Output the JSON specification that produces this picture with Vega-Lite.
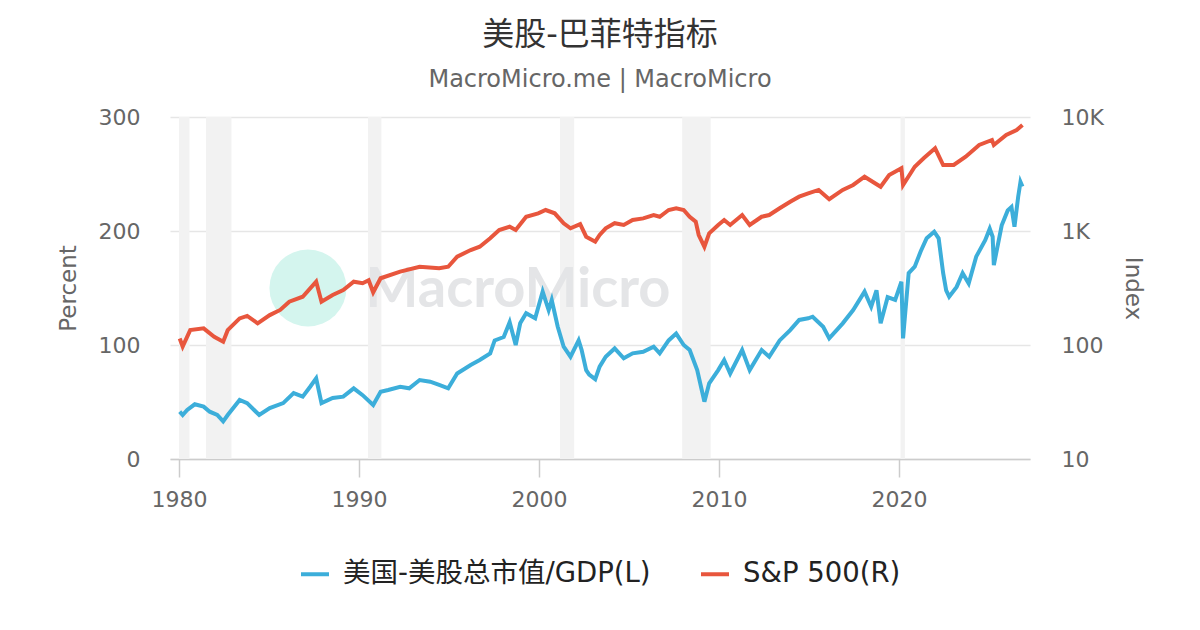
{
  "$schema": "https://vega.github.io/schema/vega-lite/v6.json",
  "autosize": {"type": "none"},
  "width": 860,
  "height": 342,
  "padding": {"left": 170, "top": 117, "right": 170, "bottom": 171},
  "background": "white",
  "title": {
    "text": "美股-巴菲特指标",
    "subtitle": "MacroMicro.me | MacroMicro",
    "anchor": "middle",
    "font": "DejaVu Sans, Noto Sans CJK SC",
    "fontSize": 32,
    "fontWeight": "normal",
    "color": "#333333",
    "subtitleFont": "DejaVu Sans",
    "subtitleFontSize": 24,
    "subtitleColor": "#666666",
    "subtitlePadding": 16,
    "offset": 13
  },
  "config": {
    "view": {"stroke": null},
    "font": "DejaVu Sans, Noto Sans CJK SC"
  },
  "datasets": {
    "rec": [
      {"start": "1980-01-01", "end": "1980-07-31"},
      {"start": "1981-07-01", "end": "1982-11-30"},
      {"start": "1990-07-01", "end": "1991-03-31"},
      {"start": "2001-03-01", "end": "2001-12-15"},
      {"start": "2007-12-15", "end": "2009-07-15"},
      {"start": "2020-02-01", "end": "2020-04-30"}
    ],
    "wm": [
      {"date": "1987-03-01", "value": 150, "label": ""},
      {"date": "1998-11-01", "value": 148, "label": "MacroMicro"}
    ],
    "gdp": [
      {"date": "1980-01-15", "value": 41.5},
      {"date": "1980-03-15", "value": 38.6},
      {"date": "1980-06-15", "value": 43},
      {"date": "1980-11-15", "value": 48},
      {"date": "1981-05-15", "value": 45.9},
      {"date": "1981-09-15", "value": 41.5},
      {"date": "1982-02-15", "value": 38.6},
      {"date": "1982-06-15", "value": 33},
      {"date": "1982-09-15", "value": 38.6},
      {"date": "1983-05-15", "value": 51.8},
      {"date": "1983-10-15", "value": 49},
      {"date": "1984-06-15", "value": 38.6},
      {"date": "1985-01-15", "value": 44.7},
      {"date": "1985-10-15", "value": 49},
      {"date": "1986-05-15", "value": 57.8},
      {"date": "1986-11-15", "value": 54.7},
      {"date": "1987-04-15", "value": 63.4},
      {"date": "1987-08-15", "value": 70.8},
      {"date": "1987-12-01", "value": 49},
      {"date": "1988-07-15", "value": 53.5},
      {"date": "1989-02-15", "value": 54.7},
      {"date": "1989-09-15", "value": 62},
      {"date": "1990-03-15", "value": 56},
      {"date": "1990-10-15", "value": 47.4},
      {"date": "1991-03-15", "value": 59},
      {"date": "1991-08-15", "value": 60.5},
      {"date": "1992-04-15", "value": 63.4},
      {"date": "1992-10-15", "value": 62},
      {"date": "1993-05-15", "value": 69.3},
      {"date": "1993-12-15", "value": 67.8},
      {"date": "1994-06-15", "value": 65},
      {"date": "1994-12-15", "value": 62},
      {"date": "1995-06-15", "value": 75},
      {"date": "1996-03-15", "value": 82.5},
      {"date": "1996-09-15", "value": 86.8},
      {"date": "1997-04-15", "value": 92.7},
      {"date": "1997-07-15", "value": 104},
      {"date": "1998-01-15", "value": 107},
      {"date": "1998-05-15", "value": 120},
      {"date": "1998-09-15", "value": 100},
      {"date": "1998-12-15", "value": 119},
      {"date": "1999-04-15", "value": 127.8},
      {"date": "1999-10-15", "value": 123.4},
      {"date": "2000-03-15", "value": 146.8},
      {"date": "2000-07-15", "value": 130.7},
      {"date": "2000-09-15", "value": 139.5},
      {"date": "2001-01-15", "value": 116},
      {"date": "2001-05-15", "value": 98.5},
      {"date": "2001-10-01", "value": 89.7},
      {"date": "2002-03-15", "value": 104},
      {"date": "2002-05-15", "value": 95.6},
      {"date": "2002-08-15", "value": 78},
      {"date": "2002-10-15", "value": 74},
      {"date": "2003-02-15", "value": 70},
      {"date": "2003-05-15", "value": 81},
      {"date": "2003-09-15", "value": 89.7},
      {"date": "2004-03-15", "value": 97},
      {"date": "2004-09-15", "value": 88.3},
      {"date": "2005-03-15", "value": 92.7},
      {"date": "2005-10-15", "value": 94},
      {"date": "2006-05-15", "value": 98.5},
      {"date": "2006-09-15", "value": 92.7},
      {"date": "2007-03-15", "value": 104},
      {"date": "2007-08-15", "value": 110},
      {"date": "2008-01-15", "value": 100},
      {"date": "2008-05-15", "value": 95.6},
      {"date": "2008-10-15", "value": 78},
      {"date": "2009-01-15", "value": 60.5},
      {"date": "2009-03-10", "value": 50.3},
      {"date": "2009-06-15", "value": 66.4},
      {"date": "2009-12-15", "value": 78},
      {"date": "2010-04-15", "value": 86.8},
      {"date": "2010-08-15", "value": 75},
      {"date": "2011-04-15", "value": 95.6},
      {"date": "2011-09-15", "value": 78},
      {"date": "2012-05-15", "value": 95.6},
      {"date": "2012-10-15", "value": 89.7},
      {"date": "2013-05-15", "value": 104},
      {"date": "2013-12-15", "value": 113},
      {"date": "2014-06-15", "value": 122},
      {"date": "2014-12-15", "value": 123.4},
      {"date": "2015-03-15", "value": 124.8},
      {"date": "2015-10-15", "value": 116},
      {"date": "2016-02-15", "value": 105.8},
      {"date": "2016-11-15", "value": 119},
      {"date": "2017-06-15", "value": 130.7},
      {"date": "2018-02-01", "value": 146.8},
      {"date": "2018-06-15", "value": 133.6},
      {"date": "2018-10-01", "value": 148},
      {"date": "2018-12-24", "value": 119},
      {"date": "2019-05-15", "value": 142},
      {"date": "2019-10-15", "value": 139.5},
      {"date": "2020-02-19", "value": 155.5},
      {"date": "2020-03-23", "value": 105.8},
      {"date": "2020-07-15", "value": 163},
      {"date": "2020-11-15", "value": 168.7},
      {"date": "2021-03-15", "value": 182},
      {"date": "2021-07-15", "value": 193.6},
      {"date": "2021-12-15", "value": 199.4},
      {"date": "2022-03-15", "value": 193.6},
      {"date": "2022-06-15", "value": 163},
      {"date": "2022-08-15", "value": 148},
      {"date": "2022-10-15", "value": 142.4},
      {"date": "2023-03-15", "value": 151},
      {"date": "2023-07-15", "value": 163},
      {"date": "2023-11-15", "value": 154},
      {"date": "2024-04-15", "value": 177.5},
      {"date": "2024-10-15", "value": 192},
      {"date": "2025-01-15", "value": 202},
      {"date": "2025-03-15", "value": 195},
      {"date": "2025-04-08", "value": 170},
      {"date": "2025-09-15", "value": 205},
      {"date": "2026-01-15", "value": 218},
      {"date": "2026-04-01", "value": 221},
      {"date": "2026-06-01", "value": 203.7},
      {"date": "2026-08-15", "value": 230},
      {"date": "2026-10-01", "value": 243},
      {"date": "2026-11-10", "value": 239}
    ],
    "spx": [
      {"date": "1980-01-15", "value": 114},
      {"date": "1980-03-15", "value": 97},
      {"date": "1980-08-15", "value": 135},
      {"date": "1981-05-15", "value": 140},
      {"date": "1981-12-15", "value": 118},
      {"date": "1982-06-15", "value": 107},
      {"date": "1982-09-15", "value": 135},
      {"date": "1983-05-15", "value": 171},
      {"date": "1983-10-15", "value": 180},
      {"date": "1984-05-15", "value": 155},
      {"date": "1985-01-15", "value": 183},
      {"date": "1985-08-15", "value": 203},
      {"date": "1986-02-15", "value": 240},
      {"date": "1986-11-15", "value": 265},
      {"date": "1987-08-15", "value": 360},
      {"date": "1987-12-01", "value": 240},
      {"date": "1988-07-15", "value": 275},
      {"date": "1989-02-15", "value": 304},
      {"date": "1989-09-15", "value": 359},
      {"date": "1990-03-15", "value": 348},
      {"date": "1990-07-15", "value": 370},
      {"date": "1990-10-15", "value": 290},
      {"date": "1991-03-15", "value": 385},
      {"date": "1992-04-15", "value": 440},
      {"date": "1993-05-15", "value": 486},
      {"date": "1994-06-15", "value": 471},
      {"date": "1994-12-15", "value": 486},
      {"date": "1995-06-15", "value": 595},
      {"date": "1996-03-15", "value": 681},
      {"date": "1996-09-15", "value": 728},
      {"date": "1997-04-15", "value": 863},
      {"date": "1997-10-15", "value": 1020},
      {"date": "1998-05-15", "value": 1091},
      {"date": "1998-09-15", "value": 1020},
      {"date": "1999-04-15", "value": 1334},
      {"date": "1999-12-15", "value": 1429},
      {"date": "2000-05-15", "value": 1528},
      {"date": "2000-11-15", "value": 1429},
      {"date": "2001-05-15", "value": 1169},
      {"date": "2001-10-01", "value": 1056},
      {"date": "2002-04-15", "value": 1150},
      {"date": "2002-08-15", "value": 891},
      {"date": "2003-02-15", "value": 806},
      {"date": "2003-05-15", "value": 922},
      {"date": "2003-09-15", "value": 1056},
      {"date": "2004-03-15", "value": 1170},
      {"date": "2004-09-15", "value": 1129},
      {"date": "2005-03-15", "value": 1248},
      {"date": "2005-10-15", "value": 1291},
      {"date": "2006-05-15", "value": 1381},
      {"date": "2006-09-15", "value": 1334},
      {"date": "2007-03-15", "value": 1528},
      {"date": "2007-08-15", "value": 1582},
      {"date": "2008-01-15", "value": 1528},
      {"date": "2008-05-15", "value": 1334},
      {"date": "2008-09-15", "value": 1207},
      {"date": "2008-11-15", "value": 922},
      {"date": "2009-03-10", "value": 728},
      {"date": "2009-06-15", "value": 955},
      {"date": "2009-12-15", "value": 1129},
      {"date": "2010-04-15", "value": 1248},
      {"date": "2010-08-15", "value": 1129},
      {"date": "2011-04-15", "value": 1381},
      {"date": "2011-09-15", "value": 1129},
      {"date": "2012-05-15", "value": 1334},
      {"date": "2012-10-15", "value": 1381},
      {"date": "2013-05-15", "value": 1582},
      {"date": "2013-12-15", "value": 1807},
      {"date": "2014-06-15", "value": 2000},
      {"date": "2014-12-15", "value": 2139},
      {"date": "2015-07-15", "value": 2291},
      {"date": "2016-02-15", "value": 1900},
      {"date": "2016-11-15", "value": 2291},
      {"date": "2017-06-15", "value": 2533},
      {"date": "2018-02-01", "value": 2994},
      {"date": "2018-12-24", "value": 2447},
      {"date": "2019-06-15", "value": 3100},
      {"date": "2020-02-19", "value": 3548},
      {"date": "2020-03-23", "value": 2533},
      {"date": "2020-11-15", "value": 3664},
      {"date": "2021-05-15", "value": 4345},
      {"date": "2022-01-03", "value": 5311},
      {"date": "2022-06-15", "value": 3793},
      {"date": "2023-01-15", "value": 3793},
      {"date": "2023-09-15", "value": 4487},
      {"date": "2024-06-15", "value": 5680},
      {"date": "2025-03-01", "value": 6283},
      {"date": "2025-04-08", "value": 5680},
      {"date": "2025-12-15", "value": 6950},
      {"date": "2026-07-15", "value": 7690},
      {"date": "2026-11-10", "value": 8510}
    ]
  },
  "encoding": {
    "x": {
      "field": "date",
      "type": "temporal",
      "scale": {"domain": [{"year": 1979, "month": 7, "date": 2}, {"year": 2027, "month": 4, "date": 12}]},
      "axis": {
        "title": null,
        "format": "%Y",
        "values": [{"year": 1980}, {"year": 1990}, {"year": 2000}, {"year": 2010}, {"year": 2020}],
        "grid": false,
        "domainColor": "#cccccc",
        "domainWidth": 1.5,
        "tickColor": "#cccccc",
        "tickWidth": 1.5,
        "tickSize": 18,
        "labelFontSize": 22,
        "labelColor": "#666666",
        "labelPadding": 12,
        "labelFont": "DejaVu Sans"
      }
    }
  },
  "layer": [
    {
      "data": {"name": "rec"},
      "mark": {"type": "rect", "color": "#f2f2f2"},
      "encoding": {
        "x": {"field": "start", "type": "temporal"},
        "x2": {"field": "end"}
      }
    },
    {
      "encoding": {
        "y": {
          "field": "value",
          "type": "quantitative",
          "scale": {"domain": [0, 300]},
          "axis": {
            "orient": "left",
            "title": "Percent",
            "titleFontSize": 23,
            "titleFontWeight": "normal",
            "titleColor": "#666666",
            "titleFont": "DejaVu Sans",
            "titlePadding": 18,
            "values": [0, 100, 200, 300],
            "grid": true,
            "gridColor": "#e6e6e6",
            "gridWidth": 1.5,
            "domain": false,
            "ticks": false,
            "labelFontSize": 22,
            "labelColor": "#666666",
            "labelFont": "DejaVu Sans",
            "labelPadding": 30
          }
        }
      },
      "layer": [
        {
          "data": {"name": "wm"},
          "transform": [{"filter": "datum.label == ''"}],
          "mark": {"type": "point", "shape": "circle", "filled": true, "size": 5929, "color": "#d4f5ee", "opacity": 1}
        },
        {
          "data": {"name": "wm"},
          "transform": [{"filter": "datum.label != ''"}],
          "mark": {"type": "text", "font": "Lato", "fontWeight": "bold", "fontSize": 56, "color": "#e4e5e7", "baseline": "middle", "align": "center"},
          "encoding": {"text": {"field": "label"}}
        },
        {
          "data": {"name": "gdp"},
          "mark": {"type": "line", "strokeWidth": 4, "interpolate": "linear"},
          "encoding": {
            "color": {
              "datum": "美国-美股总市值/GDP(L)",
              "scale": {"domain": ["美国-美股总市值/GDP(L)", "S&P 500(R)"], "range": ["#3caeda", "#e8563d"]},
              "legend": {
                "title": null,
                "orient": "none",
                "legendX": 129,
                "legendY": 441,
                "direction": "horizontal",
                "symbolType": "stroke",
                "symbolStrokeWidth": 4,
                "symbolSize": 784,
                "labelFontSize": 27.5,
                "labelColor": "#222222",
                "labelFont": "DejaVu Sans, Noto Sans CJK SC",
                "labelOffset": 12,
                "columnPadding": 42,
                "labelLimit": 500
              }
            }
          }
        }
      ]
    },
    {
      "data": {"name": "spx"},
      "mark": {"type": "line", "strokeWidth": 4},
      "encoding": {
        "y": {
          "field": "value",
          "type": "quantitative",
          "scale": {"type": "log", "domain": [10, 10000]},
          "axis": {
            "orient": "right",
            "title": "Index",
            "titleFontSize": 23,
            "titleFontWeight": "normal",
            "titleColor": "#666666",
            "titleFont": "DejaVu Sans",
            "titlePadding": 17,
            "values": [10, 100, 1000, 10000],
            "labelExpr": "datum.value >= 1000 ? format(datum.value / 1000, 'd') + 'K' : format(datum.value, 'd')",
            "grid": false,
            "domain": false,
            "ticks": false,
            "labelFontSize": 22,
            "labelColor": "#666666",
            "labelFont": "DejaVu Sans",
            "labelPadding": 31
          }
        },
        "color": {"datum": "S&P 500(R)"}
      }
    }
  ],
  "resolve": {"scale": {"y": "independent"}}
}
